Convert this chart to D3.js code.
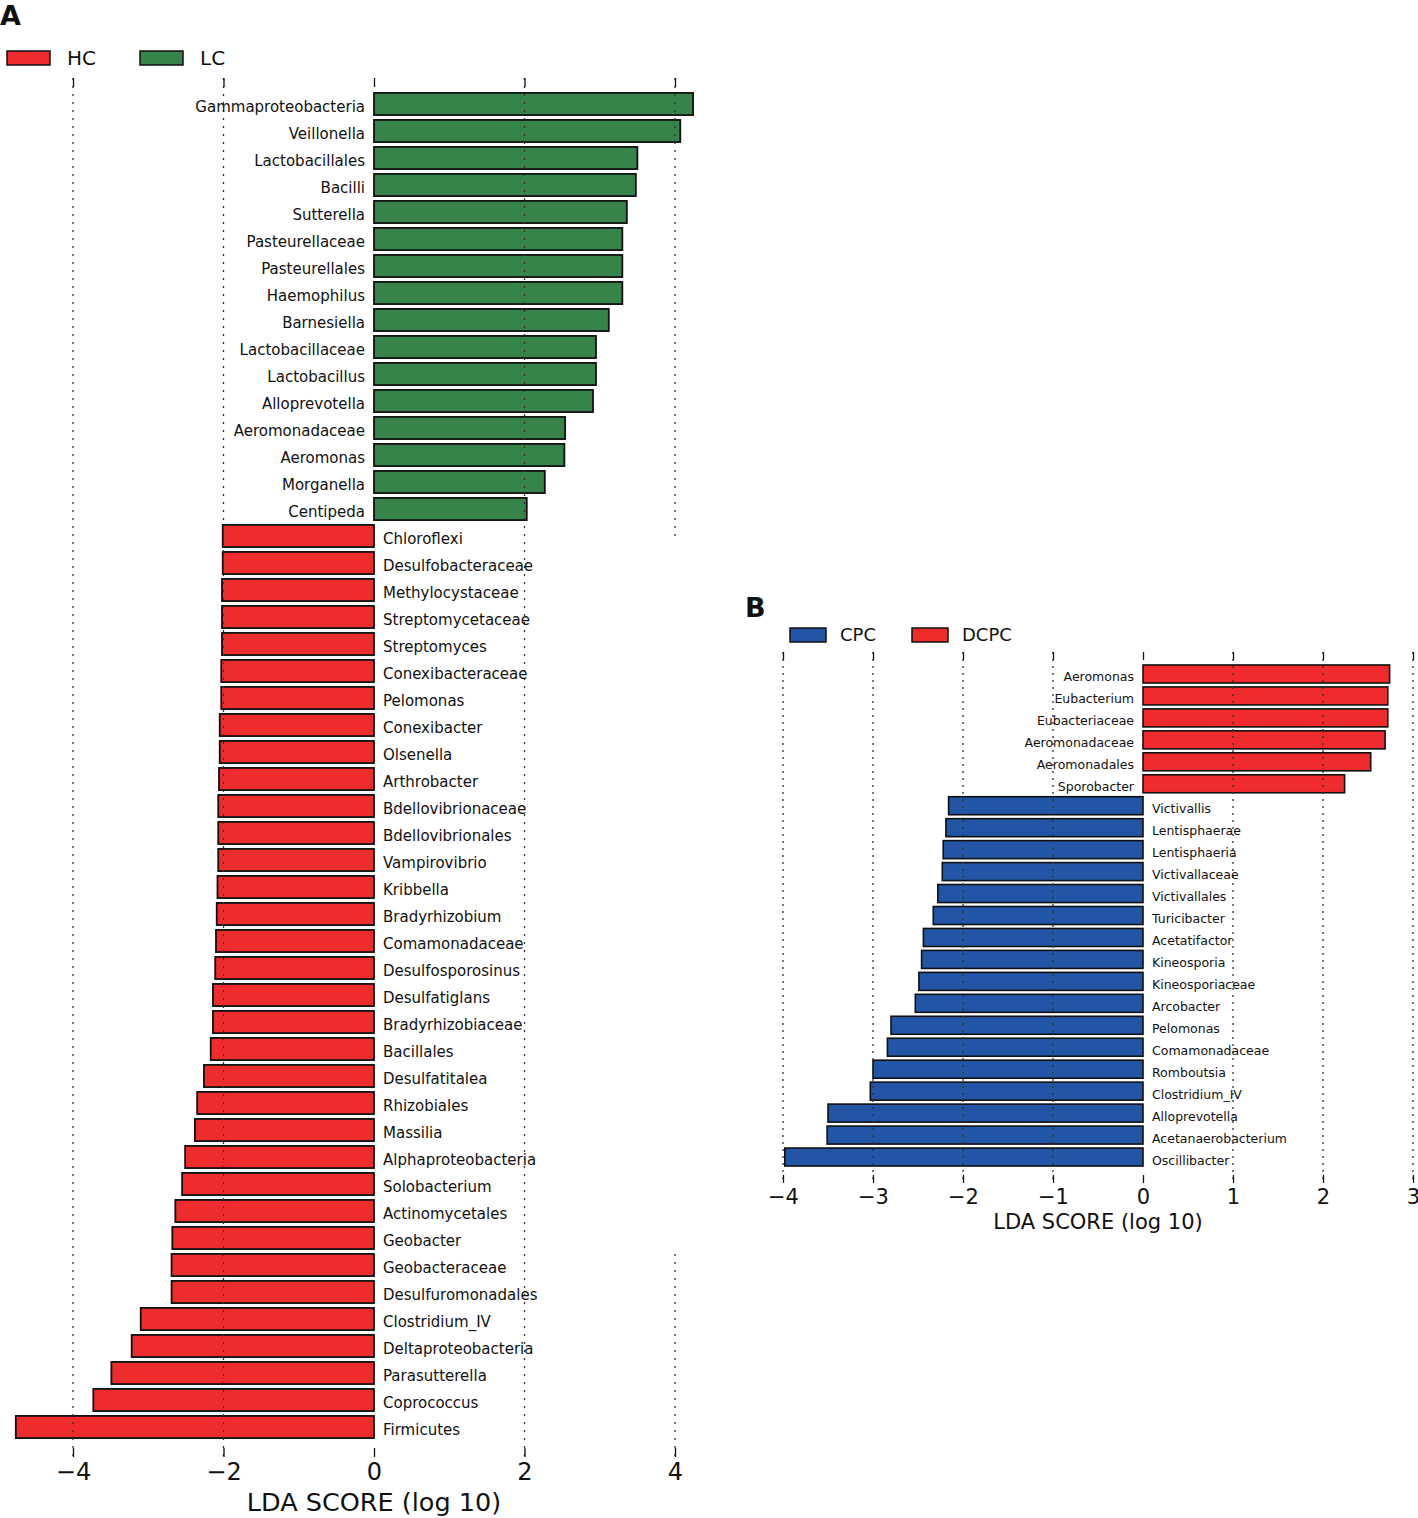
<!DOCTYPE html>
<html><head><meta charset="utf-8">
<script src="https://cdn.jsdelivr.net/npm/d3@7"></script>
<style>body{margin:0;background:#fff}svg{display:block}text{font-family:"DejaVu Sans",sans-serif}</style>
</head><body>
<svg id="c" width="1418" height="1518"></svg>
<script>
// ---- Panel A data ----
const lcNames = ["Gammaproteobacteria","Veillonella","Lactobacillales","Bacilli","Sutterella","Pasteurellaceae","Pasteurellales","Haemophilus","Barnesiella","Lactobacillaceae","Lactobacillus","Alloprevotella","Aeromonadaceae","Aeromonas","Morganella","Centipeda"];
const lcValues = [4.24,4.07,3.50,3.48,3.36,3.30,3.30,3.30,3.12,2.95,2.95,2.91,2.54,2.53,2.27,2.03];
const hcNames = ["Chloroflexi","Desulfobacteraceae","Methylocystaceae","Streptomycetaceae","Streptomyces","Conexibacteraceae","Pelomonas","Conexibacter","Olsenella","Arthrobacter","Bdellovibrionaceae","Bdellovibrionales","Vampirovibrio","Kribbella","Bradyrhizobium","Comamonadaceae","Desulfosporosinus","Desulfatiglans","Bradyrhizobiaceae","Bacillales","Desulfatitalea","Rhizobiales","Massilia","Alphaproteobacteria","Solobacterium","Actinomycetales","Geobacter","Geobacteraceae","Desulfuromonadales","Clostridium_IV","Deltaproteobacteria","Parasutterella","Coprococcus","Firmicutes"];
const hcValues = [-2.01,-2.01,-2.02,-2.02,-2.02,-2.03,-2.03,-2.05,-2.05,-2.06,-2.07,-2.07,-2.07,-2.08,-2.09,-2.10,-2.11,-2.14,-2.14,-2.17,-2.26,-2.35,-2.38,-2.51,-2.55,-2.64,-2.68,-2.69,-2.69,-3.10,-3.22,-3.49,-3.73,-4.76];
const ticksA = [-4,-2,0,2,4];
// ---- Panel B data ----
const dcpcNames = ["Aeromonas","Eubacterium","Eubacteriaceae","Aeromonadaceae","Aeromonadales","Sporobacter"];
const dcpcValues = [2.74,2.72,2.72,2.69,2.53,2.24];
const cpcNames = ["Victivallis","Lentisphaerae","Lentisphaeria","Victivallaceae","Victivallales","Turicibacter","Acetatifactor","Kineosporia","Kineosporiaceae","Arcobacter","Pelomonas","Comamonadaceae","Romboutsia","Clostridium_IV","Alloprevotella","Acetanaerobacterium","Oscillibacter"];
const cpcValues = [-2.16,-2.19,-2.22,-2.23,-2.28,-2.33,-2.44,-2.46,-2.49,-2.53,-2.80,-2.84,-3.00,-3.03,-3.50,-3.51,-3.98];
const ticksB = [-4,-3,-2,-1,0,1,2,3];

const RED = "#ee2b2d", GREEN = "#36844a", BLUE = "#2255a6";
const fmt = v => (v < 0 ? "\u2212" + Math.abs(v) : String(v));
const svg = d3.select("#c");

function panel(o) {
  const g = svg.append("g");
  const rows = o.rows;
  const x = d3.scaleLinear().domain(o.xDomain).range(o.xRange);
  const y = d3.scaleBand().domain(rows.map((d, i) => i)).range(o.yRange).paddingInner(0.18).paddingOuter(0.09);
  if (o.bg) g.append("rect").attr("x", o.bg[0]).attr("y", o.bg[1]).attr("width", o.bg[2]).attr("height", o.bg[3]).attr("fill", "#fff");
  // bars
  g.selectAll("rect.bar").data(rows).join("rect").attr("class", "bar")
    .attr("x", d => x(Math.min(0, d.v))).attr("width", d => Math.abs(x(d.v) - x(0)))
    .attr("y", (d, i) => y(i)).attr("height", y.bandwidth())
    .attr("fill", d => d.c).attr("stroke", "#111").attr("stroke-width", o.sw);
  // grid
  g.selectAll("line.grid").data(o.ticks.filter(t => t !== 0)).join("line")
    .attr("x1", d => x(d)).attr("x2", d => x(d)).attr("y1", o.gridTop).attr("y2", o.gridBottom)
    .attr("stroke", "#333").attr("stroke-width", 1.3).attr("stroke-dasharray", o.dash);
  // labels
  g.selectAll("text.lab").data(rows).join("text")
    .attr("x", d => d.v > 0 ? x(0) - o.labGap : x(0) + o.labGap)
    .attr("y", (d, i) => y(i) + y.bandwidth() / 2).attr("dy", o.labDy)
    .attr("text-anchor", d => d.v > 0 ? "end" : "start")
    .attr("font-size", o.labSize).attr("fill", "#111").text(d => d.n);
  // ticks top & bottom
  const ax = d3.axisBottom(x).tickValues(o.ticks).tickFormat(fmt).tickSize(o.tickLen).tickPadding(o.tickPad);
  const bot = g.append("g").attr("transform", `translate(0,${o.gridBottom - o.tickLen})`).call(ax);
  bot.select(".domain").remove();
  bot.selectAll("text").attr("font-size", o.tickSize).attr("fill", "#111").style("font-family", "DejaVu Sans");
  bot.selectAll("line").attr("stroke", "#111").attr("stroke-width", 1.3);
  const axT = d3.axisTop(x).tickValues(o.ticks).tickFormat("").tickSize(o.tickLen);
  const top = g.append("g").attr("transform", `translate(0,${o.gridTop + o.tickLen})`).call(axT);
  top.select(".domain").remove();
  top.selectAll("line").attr("stroke", "#111").attr("stroke-width", 1.3);
  // title
  g.append("text").attr("x", o.titleX).attr("y", o.titleY).attr("text-anchor", "middle")
    .attr("font-size", o.titleSize).attr("fill", "#111").text("LDA SCORE (log 10)");
  // legend
  o.legend.forEach(l => {
    g.append("rect").attr("x", l.x).attr("y", o.legY).attr("width", o.legW).attr("height", o.legH)
      .attr("fill", l.c).attr("stroke", "#111").attr("stroke-width", 1.5);
    g.append("text").attr("x", l.x + o.legW + o.legGap).attr("y", o.legY + o.legH / 2).attr("dy", "0.36em")
      .attr("font-size", o.legSize).attr("fill", "#111").text(l.t);
  });
  g.append("text").attr("x", o.letter[0]).attr("y", o.letter[1]).attr("font-size", 27).attr("font-weight", "bold")
    .attr("fill", "#111").text(o.letter[2]);
}

const rowsA = lcNames.map((n, i) => ({n, v: lcValues[i], c: GREEN}))
  .concat(hcNames.map((n, i) => ({n, v: hcValues[i], c: RED})));
panel({
  rows: rowsA, xDomain: [-4, 4], xRange: [73, 675], yRange: [90.5, 1440.5], ticks: ticksA,
  sw: 1.8, gridTop: 78, gridBottom: 1457, dash: "2,6", labGap: 9, labSize: 15, labDy: "0.56em",
  tickLen: 9, tickPad: 6, tickSize: 24, titleX: 374, titleY: 1511, titleSize: 25.5,
  legend: [{x: 7, c: RED, t: "HC"}, {x: 140, c: GREEN, t: "LC"}], legY: 51, legW: 43, legH: 14, legGap: 17, legSize: 20,
  letter: [0, 25, "A"]
});

const rowsB = dcpcNames.map((n, i) => ({n, v: dcpcValues[i], c: RED}))
  .concat(cpcNames.map((n, i) => ({n, v: cpcValues[i], c: BLUE})));
panel({
  rows: rowsB, xDomain: [-4, 3], xRange: [783, 1413], yRange: [663, 1168], ticks: ticksB,
  sw: 1.6, gridTop: 652, gridBottom: 1183, dash: "2,5", labGap: 9, labSize: 12.5, labDy: "0.6em",
  tickLen: 8, tickPad: 6, tickSize: 21, titleX: 1098, titleY: 1229, titleSize: 21,
  bg: [660, 538, 758, 714],
  legend: [{x: 790, c: BLUE, t: "CPC"}, {x: 912, c: RED, t: "DCPC"}], legY: 628, legW: 36, legH: 14, legGap: 14, legSize: 18,
  letter: [745, 617, "B"]
});
</script>
</body></html>
